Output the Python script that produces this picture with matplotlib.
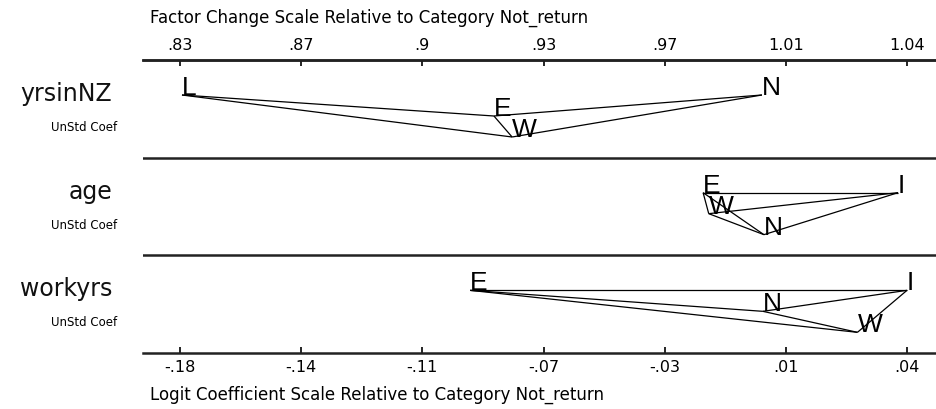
import matplotlib
matplotlib.use("Agg")
import matplotlib.pyplot as plt
from itertools import combinations

# ---------------- data ----------------
variables = ["yrsinNZ", "age", "workyrs"]
row_sublabel = "UnStd Coef"

yrsinNZ_cats = ["L", "E", "W", "N"]
yrsinNZ_coef = [-0.1794, -0.0850, -0.0795, -0.0039]
yrsinNZ_links = [("L", "E"), ("L", "W"), ("E", "W"), ("E", "N"), ("W", "N")]

age_cats = ["E", "W", "N", "I"]
age_coef = [-0.0217, -0.0200, -0.0033, 0.0373]
age_links = list(combinations(age_cats, 2))

workyrs_cats = ["E", "N", "W", "I"]
workyrs_coef = [-0.0922, -0.0036, 0.0250, 0.0400]
workyrs_links = list(combinations(workyrs_cats, 2))

logit_ticks = [-0.18, -0.14333, -0.10667, -0.07, -0.03333, 0.00333, 0.04]
logit_labels = ["-.18", "-.14", "-.11", "-.07", "-.03", ".01", ".04"]
factor_labels = [".83", ".87", ".9", ".93", ".97", "1.01", "1.04"]

top_title = "Factor Change Scale Relative to Category Not_return"
bottom_title = "Logit Coefficient Scale Relative to Category Not_return"

# ---------------- layout ----------------
W, H = 936, 409
# vertical stacking level of each letter inside its panel (layout only)
levels = {
    "yrsinNZ": [0, 1, 2, 0],
    "age": [0, 1, 2, 0],
    "workyrs": [0, 1, 2, 0],
}
panels = [
    ("yrsinNZ", yrsinNZ_cats, yrsinNZ_coef, yrsinNZ_links),
    ("age", age_cats, age_coef, age_links),
    ("workyrs", workyrs_cats, workyrs_coef, workyrs_links),
]

px_left, px_right, px_top, px_bot = 143, 936, 60, 353
panel_px = (px_bot - px_top) / 3.0

fig = plt.figure(figsize=(W / 100, H / 100), dpi=100)
ax = fig.add_axes([px_left / W, 1 - px_bot / H, (px_right - px_left) / W,
                   (px_bot - px_top) / H])

# x scale: tick at pixel 180 = first tick, 907 = last tick
ppu = (907 - 180) / (logit_ticks[-1] - logit_ticks[0])
xmin = logit_ticks[0] - (180 - px_left) / ppu
xmax = logit_ticks[0] + (px_right - 180) / ppu
ax.set_xlim(xmin, xmax)
ax.set_ylim(3, 0)

letter_font = ["Liberation Sans", "DejaVu Sans"]

for i, (name, cats, coefs, links) in enumerate(panels):
    lv = levels[name]
    ypos = {c: i + (35 + 21 * k) / panel_px for c, k in zip(cats, lv)}
    xpos = dict(zip(cats, coefs))
    for a, b in links:
        ax.plot([xpos[a], xpos[b]], [ypos[a], ypos[b]], color="black",
                lw=0.9, solid_capstyle="butt")
    for c in cats:
        ax.text(xpos[c], ypos[c], c, family=letter_font, fontsize=19,
                ha="left", va="baseline", color="black")
    # row labels
    ax.text(-(px_left - 112) / (px_right - px_left), i + 41 / panel_px, name,
            transform=ax.get_yaxis_transform(), ha="right", va="baseline",
            fontsize=17, color="#111111", clip_on=False)
    ax.text(-(px_left - 117) / (px_right - px_left), i + 71 / panel_px,
            row_sublabel, transform=ax.get_yaxis_transform(), ha="right",
            va="baseline", fontsize=8.5, color="black", clip_on=False)

for yy in (1, 2):
    ax.axhline(yy, color="#222222", lw=1.8)

for s in ("left", "right"):
    ax.spines[s].set_visible(False)
for s in ("top", "bottom"):
    ax.spines[s].set_linewidth(1.8)
    ax.spines[s].set_color("#222222")

ax.set_yticks([])
ax.set_xticks(logit_ticks)
ax.set_xticklabels(logit_labels)
ax.tick_params(axis="x", direction="in", length=4, width=1.2, pad=5,
               labelsize=11.5, colors="black")

ax2 = ax.twiny()
ax2.set_xlim(xmin, xmax)
ax2.set_xticks(logit_ticks)
ax2.set_xticklabels(factor_labels)
ax2.tick_params(axis="x", direction="in", length=4, width=1.2, pad=5,
                labelsize=11.5, colors="black")
for s in ("left", "right", "bottom"):
    ax2.spines[s].set_visible(False)
ax2.spines["top"].set_linewidth(1.8)
ax2.spines["top"].set_color("#222222")

fig.text(150 / W, 1 - 18 / H, top_title, ha="left", va="center", fontsize=12)
fig.text(150 / W, 1 - 395 / H, bottom_title, ha="left", va="center",
         fontsize=12)

fig.savefig("out.png", dpi=100)
